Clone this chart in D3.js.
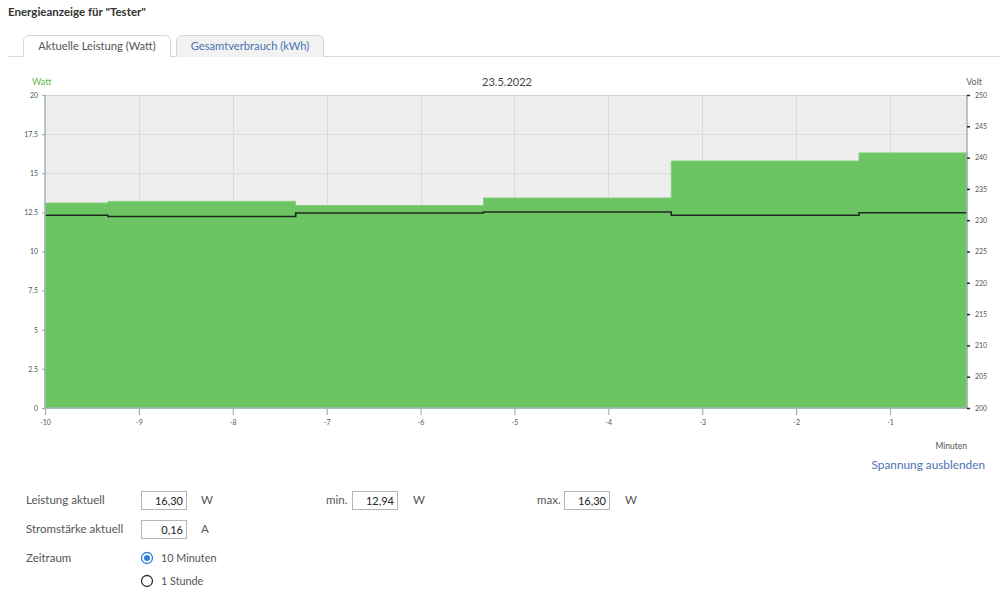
<!DOCTYPE html>
<html>
<head>
<meta charset="utf-8">
<script src="https://cdn.jsdelivr.net/npm/d3@7"></script>
<style>
  body { margin: 0; background: #fff; font-family: Lato, "Open Sans", sans-serif; }
  svg { display: block; }
</style>
</head>
<body>
<div id="chart-area"></div>
<script>
// step start times (minutes before now) and the readings for each step
let stepStart = [-10, -9.33, -7.33, -5.33, -3.33, -1.33];
let stepEnd = -0.18;
let watt = [13.1, 13.2, 12.94, 13.42, 15.78, 16.30];
let volt = [230.8, 230.6, 231.15, 231.3, 230.8, 231.2];

let xTicks = [-10, -9, -8, -7, -6, -5, -4, -3, -2, -1];
let wattTicks = [0, 2.5, 5, 7.5, 10, 12.5, 15, 17.5, 20];
let voltTicks = [200, 205, 210, 215, 220, 225, 230, 235, 240, 245, 250];

let chartDate = "23.5.2022";

let W = 1000, H = 592;
let margin = {top: 95, right: 33, bottom: 184, left: 45};
let width = W - margin.left - margin.right;
let height = H - margin.top - margin.bottom;

let svg = d3.select("#chart-area").append("svg")
	.attr("width", W)
	.attr("height", H);

// ---- page header & tabs ----
svg.append("text")
	.attr("x", 8).attr("y", 16)
	.attr("font-size", 11.5).attr("font-weight", "bold").attr("fill", "#333")
	.text('Energieanzeige für "Tester"');

svg.append("line")
	.attr("x1", 8).attr("x2", 1000).attr("y1", 56.5).attr("y2", 56.5)
	.attr("stroke", "#cfdfe3");

function tab(x, w, label, active) {
	let r = 6, y0 = 35.5, y1 = 57;
	svg.append("path")
		.attr("d", `M${x},${y1} L${x},${y0 + r} Q${x},${y0} ${x + r},${y0} L${x + w - r},${y0} Q${x + w},${y0} ${x + w},${y0 + r} L${x + w},${y1}`)
		.attr("fill", active ? "#fff" : "#f2f2f2")
		.attr("stroke", "#c9d9de");
	svg.append("text")
		.attr("x", x + w / 2).attr("y", 50)
		.attr("text-anchor", "middle").attr("font-size", 11.2)
		.attr("fill", active ? "#555" : "#4a72b2")
		.text(label);
}
tab(23.5, 147, "Aktuelle Leistung (Watt)", true);
tab(176.5, 147, "Gesamtverbrauch (kWh)", false);

// ---- chart ----
let g = svg.append("g")
	.attr("transform", "translate(" + margin.left + "," + margin.top + ")");

let xScale = d3.scaleLinear().domain([-10, stepEnd]).range([0, width]);
let yWatt = d3.scaleLinear().domain([0, 20]).range([height, 0]);
let yVolt = d3.scaleLinear().domain([200, 250]).range([height, 0]);

g.append("rect")
	.attr("width", width).attr("height", height)
	.attr("fill", "#eeeeee");

// grid
g.selectAll(".hgrid").data(wattTicks.slice(1, -1)).enter().append("line")
	.attr("x1", 0).attr("x2", width)
	.attr("y1", d => Math.round(yWatt(d)) + 0.5).attr("y2", d => Math.round(yWatt(d)) + 0.5)
	.attr("stroke", "#dcdcdc");
g.selectAll(".vgrid").data(xTicks.slice(1)).enter().append("line")
	.attr("y1", 0).attr("y2", height)
	.attr("x1", d => Math.round(xScale(d)) + 0.5).attr("x2", d => Math.round(xScale(d)) + 0.5)
	.attr("stroke", "#dcdcdc");

// step data
let steps = stepStart.map((s, i) => ({x: s, w: watt[i], v: volt[i]}));
steps.push({x: stepEnd, w: watt[watt.length - 1], v: volt[volt.length - 1]});

let area = d3.area()
	.curve(d3.curveStepAfter)
	.x(d => xScale(d.x))
	.y0(height)
	.y1(d => yWatt(d.w));

g.append("path")
	.datum(steps)
	.attr("d", area)
	.attr("fill", "#6cc463")
	.attr("stroke", "#86d07e")
	.attr("stroke-width", 1);

let vline = d3.line()
	.curve(d3.curveStepAfter)
	.x(d => xScale(d.x))
	.y(d => yVolt(d.v));

g.append("path")
	.datum(steps)
	.attr("d", vline)
	.attr("fill", "none")
	.attr("stroke", "#1f2a1f")
	.attr("stroke-width", 1.6);

// top border
g.append("line")
	.attr("x1", 0).attr("x2", width).attr("y1", 0.5).attr("y2", 0.5)
	.attr("stroke", "#c8d2d2");

// axes
let axisColor = "#9fb3b3";

let leftAxis = g.append("g")
	.call(d3.axisLeft(yWatt).tickValues(wattTicks).tickSize(3).tickPadding(4)
		.tickFormat(d => String(d)));
let bottomAxis = g.append("g")
	.attr("transform", "translate(0," + height + ")")
	.call(d3.axisBottom(xScale).tickValues(xTicks).tickSize(7).tickPadding(5)
		.tickFormat(d => String(d)));
let rightAxis = g.append("g")
	.attr("transform", "translate(" + width + ",0)")
	.call(d3.axisRight(yVolt).tickValues(voltTicks).tickSize(3).tickPadding(5)
		.tickFormat(d => String(d)));

[leftAxis, bottomAxis, rightAxis].forEach(a => {
	a.select(".domain").attr("stroke", axisColor).attr("stroke-width", 1.5);
	a.selectAll(".tick line").attr("stroke", axisColor).attr("stroke-width", 1.2);
	a.selectAll("text").attr("font-size", 7).attr("fill", "#555")
		.attr("font-family", "Lato, sans-serif");
});
rightAxis.selectAll(".tick line").attr("stroke", "#222").attr("stroke-width", 1.5);
rightAxis.select(".domain").attr("d", `M0,0V${height}`);
leftAxis.select(".domain").attr("d", `M0,0V${height}`);
bottomAxis.select(".domain").attr("d", `M0,0H${width}`);

// axis titles
svg.append("text")
	.attr("x", 32).attr("y", 85)
	.attr("font-size", 9).attr("fill", "#6cb84f")
	.text("Watt");
svg.append("text")
	.attr("x", 982).attr("y", 85)
	.attr("text-anchor", "end").attr("font-size", 9).attr("fill", "#666")
	.text("Volt");
svg.append("text")
	.attr("x", 507).attr("y", 86)
	.attr("text-anchor", "middle").attr("font-size", 11).attr("fill", "#444")
	.text(chartDate);
svg.append("text")
	.attr("x", 967).attr("y", 449)
	.attr("text-anchor", "end").attr("font-size", 8.5).attr("fill", "#555")
	.text("Minuten");

svg.append("text")
	.attr("x", 985).attr("y", 469)
	.attr("text-anchor", "end").attr("font-size", 11.8).attr("fill", "#4a72b2")
	.text("Spannung ausblenden");

// ---- form below the chart ----
let labelColor = "#555";
function label(x, y, t) {
	svg.append("text").attr("x", x).attr("y", y)
		.attr("font-size", 11.5).attr("fill", labelColor).text(t);
}
function box(x, y, val) {
	svg.append("rect").attr("x", x + 0.5).attr("y", y + 0.5)
		.attr("width", 45).attr("height", 18)
		.attr("fill", "#fff").attr("stroke", "#b5b5b5");
	svg.append("text").attr("x", x + 42).attr("y", y + 13.5)
		.attr("text-anchor", "end").attr("font-size", 11).attr("fill", "#222").text(val);
}

label(26, 504, "Leistung aktuell");
box(141, 491, "16,30");
label(201, 504, "W");
label(326, 504, "min.");
box(352, 491, "12,94");
label(413, 504, "W");
label(537, 504, "max.");
box(564, 491, "16,30");
label(625, 504, "W");

label(26, 533, "Stromstärke aktuell");
box(141, 520, "0,16");
label(201, 533, "A");

label(26, 562, "Zeitraum");
svg.append("circle").attr("cx", 147).attr("cy", 558).attr("r", 5.5)
	.attr("fill", "#fff").attr("stroke", "#2f7fd8").attr("stroke-width", 1.3);
svg.append("circle").attr("cx", 147).attr("cy", 558).attr("r", 3)
	.attr("fill", "#2f7fd8");
svg.append("text").attr("x", 161).attr("y", 562)
	.attr("font-size", 10.8).attr("fill", labelColor).text("10 Minuten");
svg.append("circle").attr("cx", 147).attr("cy", 581).attr("r", 5.5)
	.attr("fill", "#fff").attr("stroke", "#333").attr("stroke-width", 1.3);
svg.append("text").attr("x", 161).attr("y", 585)
	.attr("font-size", 10.8).attr("fill", labelColor).text("1 Stunde");
</script>
</body>
</html>
